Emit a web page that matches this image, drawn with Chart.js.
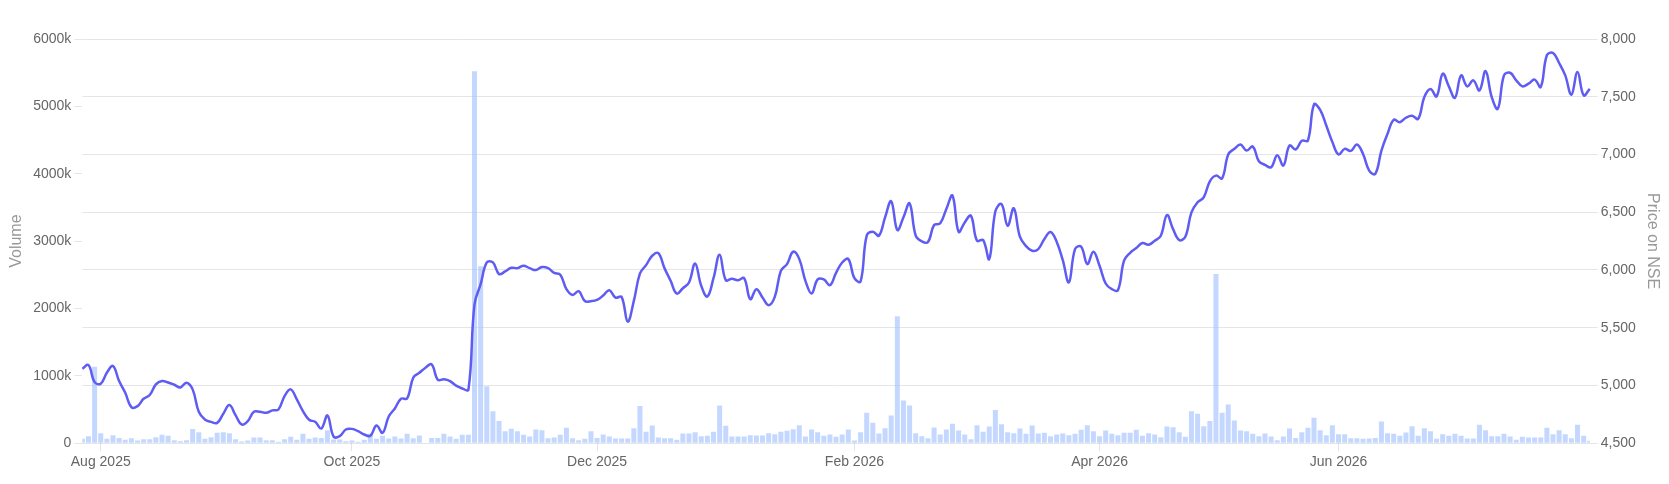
<!DOCTYPE html>
<html>
<head>
<meta charset="utf-8">
<script src="https://cdn.jsdelivr.net/npm/chart.js@4/dist/chart.umd.min.js"></script>
<style>
  html, body { margin: 0; padding: 0; background: #fff; }
  #wrap { width: 1669px; height: 484px; position: relative; }
</style>
</head>
<body>
<div id="wrap"><canvas id="c"></canvas></div>
<script>
// Month tick labels and the trading-day index at which each sits
const tickLabels = ["Aug 2025", "Oct 2025", "Dec 2025", "Feb 2026", "Apr 2026", "Jun 2026"];
const tickIndex  = [3, 44, 84, 126, 166, 205];

// Daily volume (thousands of shares), one per trading day
const volumeK = [
  65,104,1135,149,65,119,79,50,74,40,
  60,60,89,124,109,45,30,45,210,164,
  65,89,154,164,149,60,25,40,84,84,
  45,45,20,60,94,50,139,65,84,79,
  194,55,55,30,40,20,50,139,65,109,
  69,99,69,139,74,114,5,79,79,139,
  99,65,124,124,5520,2625,844,476,328,179,
  213,179,124,99,203,194,74,84,124,228,
  74,45,65,179,79,129,99,69,69,69,
  223,551,169,263,84,74,74,50,144,144,
  164,104,109,169,561,258,99,99,99,119,
  114,114,149,134,169,184,208,268,99,203,
  164,109,129,94,129,203,40,164,452,303,
  144,223,412,1886,635,561,149,104,74,233,
  129,203,288,189,129,60,268,169,248,491,
  283,164,149,218,139,263,144,154,104,129,
  144,119,139,199,268,179,104,189,139,119,
  154,154,199,109,149,129,89,248,238,164,
  94,476,437,253,328,2511,452,576,337,189,
  179,139,104,144,99,45,99,218,79,164,
  228,377,194,119,268,134,134,74,72,67,
  69,79,323,149,139,109,159,253,109,223,
  179,65,134,109,139,109,69,69,273,194,
  104,104,139,99,50,94,84,84,84,228,
  134,194,134,74,273,109,35
];

// Daily closing price on NSE
const price = [
  5145,5177,5029,5015,5110,5168,5038,4937,4812,4821,
  4885,4917,5009,5038,5026,5006,4983,5024,4966,4772,
  4705,4685,4676,4755,4830,4743,4662,4691,4772,4772,
  4763,4784,4792,4908,4966,4879,4778,4703,4685,4627,
  4740,4558,4561,4619,4624,4604,4575,4564,4653,4590,
  4731,4801,4885,4888,5067,5110,5154,5183,5050,5053,
  5038,4998,4974,4963,5703,5877,6065,6065,5964,5987,
  6019,6016,6036,6016,5999,6025,6016,5975,5958,5834,
  5784,5816,5731,5730,5741,5779,5825,5761,5767,5553,
  5732,5970,6042,6123,6146,6016,5906,5796,5842,5892,
  6056,5863,5770,5929,6132,5912,5923,5912,5929,5747,
  5834,5761,5695,5767,5993,6051,6158,6094,5906,5796,
  5918,5918,5868,5975,6065,6094,5929,5900,6297,6331,
  6297,6456,6595,6346,6456,6577,6297,6247,6242,6389,
  6404,6528,6644,6331,6412,6470,6253,6259,6094,6508,
  6571,6383,6534,6288,6207,6166,6181,6268,6328,6245,
  6085,5892,6181,6201,6051,6157,6036,5883,5834,5825,
  6080,6149,6190,6233,6218,6253,6297,6476,6354,6259,
  6288,6499,6586,6629,6768,6817,6794,7000,7049,7086,
  7034,7069,6942,6910,6890,6994,6904,7078,7043,7118,
  7121,7433,7387,7251,7107,7000,7049,7031,7086,7005,
  6861,6832,7034,7179,7300,7280,7318,7335,7309,7497,
  7567,7503,7700,7590,7491,7685,7590,7642,7555,7723,
  7497,7396,7685,7708,7642,7590,7613,7648,7584,7859,
  7879,7792,7685,7517,7714,7512,7569
];

// Category labels: trading-day index
const days = price.map((_, i) => i);
const volume = volumeK.map(v => v * 1000);

const ctx = document.getElementById('c').getContext('2d');
new Chart(ctx, {
  data: {
    labels: days,
    datasets: [
      {
        type: 'line',
        label: 'Price on NSE',
        data: price,
        yAxisID: 'yPrice',
        borderColor: '#5f5cf3',
        borderWidth: 2.5,
        pointRadius: 0,
        tension: 0.4,
        fill: false,
        order: 0
      },
      {
        type: 'bar',
        label: 'Volume',
        data: volume,
        yAxisID: 'yVol',
        backgroundColor: 'rgba(160,192,255,0.62)',
        borderWidth: 0,
        categoryPercentage: 1.0,
        barPercentage: 0.82,
        order: 1
      }
    ]
  },
  options: {
    responsive: true,
    maintainAspectRatio: false,
    animation: false,
    layout: { padding: { top: 39, right: 3, bottom: 10, left: 3 } },
    plugins: {
      legend: { display: false },
      tooltip: { enabled: false }
    },
    scales: {
      x: {
        type: 'category',
        offset: false,
        grid: { offset: false, drawOnChartArea: false, drawTicks: true, tickLength: 8, color: 'rgba(0,0,0,0.1)' },
        border: { display: false },
        afterBuildTicks: (axis) => { axis.ticks = tickIndex.map(v => ({ value: v })); },
        ticks: {
          autoSkip: false,
          maxRotation: 0,
          color: '#666',
          font: { size: 14 },
          callback: function (value) {
            const k = tickIndex.indexOf(value);
            return k >= 0 ? tickLabels[k] : '';
          }
        }
      },
      yVol: {
        type: 'linear',
        position: 'left',
        min: 0,
        max: 6000000,
        grid: { drawOnChartArea: false, drawTicks: true, tickLength: 8, color: 'rgba(0,0,0,0.1)' },
        border: { display: false },
        ticks: {
          stepSize: 1000000,
          color: '#666',
          font: { size: 14 },
          callback: (v) => v === 0 ? '0' : (v / 1000) + 'k'
        },
        title: { display: true, text: 'Volume', color: '#999', font: { size: 16 } }
      },
      yPrice: {
        type: 'linear',
        position: 'right',
        min: 4500,
        max: 8000,
        grid: { drawOnChartArea: true, drawTicks: true, tickLength: 8, color: 'rgba(0,0,0,0.1)' },
        border: { display: false },
        ticks: {
          stepSize: 500,
          color: '#666',
          font: { size: 14 },
          callback: (v) => v.toLocaleString('en-US')
        },
        title: { display: true, text: 'Price on NSE', color: '#999', font: { size: 16 } }
      }
    }
  }
});
</script>
</body>
</html>
